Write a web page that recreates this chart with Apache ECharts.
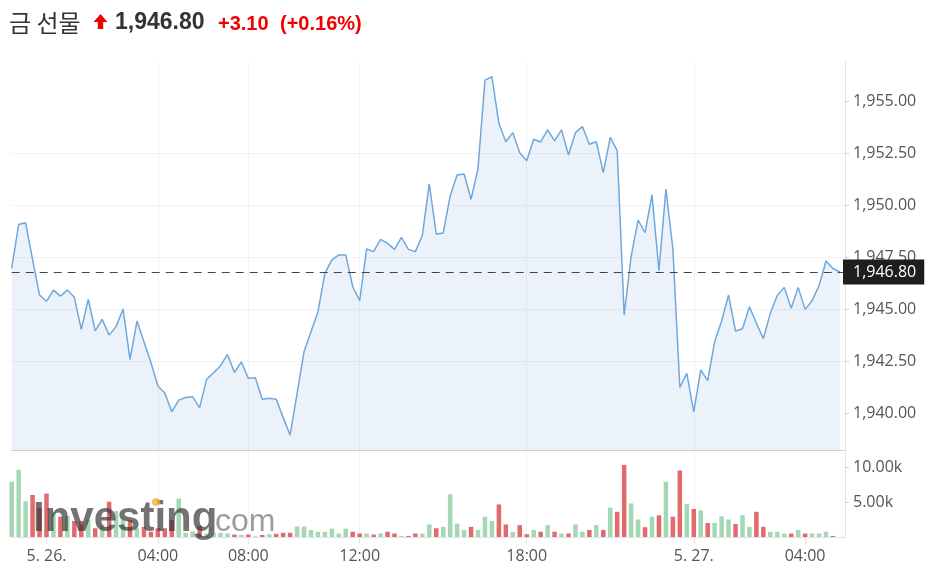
<!DOCTYPE html>
<html><head><meta charset="utf-8">
<script src="https://cdn.jsdelivr.net/npm/echarts@6/dist/echarts.min.js"></script>
<style>html,body{margin:0;padding:0;background:#fff}#c{width:933px;height:573px}</style>
</head><body><div id="c"></div>
<script>
// ---- data (15-minute bars) ----
const title = '금 선물';
const lastPrice = 1946.80;
const changeText = '+3.10';
const changePctText = '(+0.16%)';

const prices = [
  1946.97,1949.09,1949.17,1947.40,1945.69,1945.39,1945.93,1945.64,1945.93,1945.58,
  1944.04,1945.48,1943.97,1944.52,1943.76,1944.17,1945.02,1942.59,1944.44,1943.44,
  1942.45,1941.31,1940.97,1940.07,1940.63,1940.76,1940.79,1940.27,1941.63,1941.95,
  1942.29,1942.83,1941.97,1942.47,1941.68,1941.71,1940.67,1940.72,1940.67,1939.80,
  1938.95,1940.95,1942.96,1943.92,1944.89,1946.73,1947.38,1947.62,1947.62,1946.09,
  1945.42,1947.91,1947.78,1948.37,1948.18,1947.89,1948.47,1947.89,1947.78,1948.56,
  1951.04,1948.63,1948.68,1950.46,1951.47,1951.52,1950.30,1951.79,1956.04,1956.20,
  1953.96,1953.07,1953.51,1952.54,1952.16,1953.19,1953.06,1953.64,1953.11,1953.64,
  1952.43,1953.51,1953.80,1952.95,1953.07,1951.58,1953.28,1952.64,1944.73,1947.54,
  1949.30,1948.69,1950.51,1946.86,1950.79,1947.91,1941.24,1941.92,1940.07,1942.08,
  1941.57,1943.44,1944.44,1945.69,1943.96,1944.07,1945.13,1944.33,1943.59,1944.81,
  1945.67,1946.06,1945.05,1946.06,1945.00,1945.42,1946.14,1947.33,1946.97,1946.80
];

// volume in thousands
const volumesK = [
  7.9,9.6,5.1,6.0,4.2,6.2,3.5,2.9,3.0,2.3,
  2.3,2.5,1.25,1.8,5.05,3.7,2.5,2.4,1.25,1.45,
  0.75,1.25,1.25,2.4,5.5,0.6,0.8,1.6,0.5,0.6,
  0.6,0.5,0.35,0.3,0.35,0.1,0.3,0.4,0.45,0.6,
  0.6,1.5,1.5,1.0,0.75,0.75,1.2,0.5,1.2,0.75,
  0.5,0.5,0.35,0.5,0.75,0.5,0.15,0.15,0.5,0.5,
  1.8,1.25,1.45,6.1,1.9,1.0,1.45,1.0,2.9,2.3,
  4.65,1.8,0.7,1.7,0.4,1.0,0.75,1.7,0.75,0.5,
  0.5,1.8,0.75,1.0,1.7,1.0,4.2,3.6,10.3,4.8,
  2.5,1.4,2.9,3.1,7.9,2.9,9.5,4.7,4.0,3.8,
  2.0,2.0,2.95,2.5,1.85,3.1,1.45,3.6,1.45,0.75,
  0.75,0.5,0.5,1.0,0.5,0.5,0.5,0.75,0.15,0
];

const tickTimes  = ['5/26 00:00','5/26 04:00','5/26 08:00','5/26 12:00','5/26 18:00','5/27 00:00','5/27 04:00'];
const tickLabels = ['5. 26.','04:00','08:00','12:00','18:00','5. 27.','04:00'];
const priceTicks = [1940, 1942.5, 1945, 1947.5, 1950, 1952.5, 1955];
const volumeTicksK = [5, 10];

// bar timestamps: 15-minute steps from 5/25 22:45, daily break (06:15-06:45) skipped
const pad = n => (n < 10 ? '0' : '') + n;
const times = [];
(function(){
  let d = 25, h = 22, m = 45;
  while (times.length < prices.length) {
    if (!(h === 6 && m > 0)) times.push('5/' + d + ' ' + pad(h) + ':' + pad(m));
    m += 15; if (m === 60) { m = 0; h++; if (h === 24) { h = 0; d++; } }
  }
})();
const tickIdx = tickTimes.map(t => times.indexOf(t));

const UP = '#a4d7b4', DOWN = '#e26a6a';
const FONT = '"Open Sans", "Noto Sans", sans-serif';
const fmtPrice = v => Number(v).toLocaleString('en-US', {minimumFractionDigits: 2, maximumFractionDigits: 2});

const xMax = prices.length - 1 + 0.73;
const chart = echarts.init(document.getElementById('c'), null, {renderer: 'canvas'});

const vSplit = {show: true, showMinLine: false, showMaxLine: false, lineStyle: {color: '#f2f2f4'}};

chart.setOption({
  animation: false,
  backgroundColor: '#fff',
  grid: [
    {left: 11.7, right: 88, top: 62, height: 388},
    {left: 11.7, right: 88, top: 452, height: 85}
  ],
  xAxis: [
    {
      type: 'value', gridIndex: 0, min: 0, max: xMax,
      axisLine: {show: true, onZero: false, lineStyle: {color: '#cccccc'}},
      axisTick: {show: false, customValues: tickIdx},
      axisLabel: {show: false, customValues: tickIdx},
      splitLine: vSplit
    },
    {
      type: 'value', gridIndex: 1, min: 0, max: xMax,
      axisLine: {show: true, onZero: false, lineStyle: {color: '#e0e3eb'}},
      axisTick: {show: true, length: 7, lineStyle: {color: '#e0e3eb'}, customValues: tickIdx},
      axisLabel: {
        customValues: tickIdx, margin: 11, color: '#555', fontSize: 16, fontFamily: FONT,
        formatter: v => { const k = tickIdx.indexOf(Math.round(v)); return k >= 0 ? tickLabels[k] : ''; }
      },
      splitLine: vSplit
    }
  ],
  yAxis: [
    {
      type: 'value', gridIndex: 0, position: 'right', min: 1938.23, max: 1956.91,
      axisLine: {show: true, onZero: false, lineStyle: {color: '#e0e3eb'}},
      axisTick: {show: true, length: 4, lineStyle: {color: '#cfd3da'}, customValues: priceTicks},
      axisLabel: {customValues: priceTicks, margin: 8, color: '#555', fontSize: 16, fontFamily: FONT, formatter: fmtPrice},
      splitLine: {show: true, showMinLine: false, showMaxLine: false, lineStyle: {color: '#f2f2f4'}}
    },
    {
      type: 'value', gridIndex: 1, position: 'right', min: 0, max: 12.14,
      axisLine: {show: true, onZero: false, lineStyle: {color: '#e0e3eb'}},
      axisTick: {show: true, length: 4, lineStyle: {color: '#cfd3da'}, customValues: volumeTicksK},
      axisLabel: {customValues: volumeTicksK, margin: 8, color: '#555', fontSize: 16, fontFamily: FONT, formatter: v => v.toFixed(2) + 'k'},
      splitLine: {show: false}
    }
  ],
  series: [
    {
      type: 'line', xAxisIndex: 0, yAxisIndex: 0,
      data: prices.map((p, i) => [i, p]),
      showSymbol: false, symbol: 'none',
      lineStyle: {color: '#6fa8dc', width: 1.5},
      areaStyle: {color: 'rgba(120,165,210,0.2)', origin: 'start'},
      markLine: {
        silent: true, symbol: ['none', 'none'],
        lineStyle: {color: '#444', width: 1, type: [8, 6]},
        label: {
          position: 'end', distance: -2, formatter: () => fmtPrice(lastPrice),
          backgroundColor: '#1e1e1e', color: '#fff', padding: [5, 8, 4, 10],
          fontSize: 16, fontFamily: FONT
        },
        data: [{yAxis: lastPrice}]
      }
    },
    {
      type: 'bar', xAxisIndex: 1, yAxisIndex: 1, barWidth: 4.5, clip: false,
      data: volumesK.map((v, i) => ({
        value: [i, v],
        itemStyle: {color: (i === 0 || prices[i] >= prices[i - 1]) ? UP : DOWN}
      }))
    }
  ],
  graphic: [
    {type: 'text', x: 9, y: 23, z: 100, style: {text: title, font: '24px "Noto Sans CJK KR"', fill: '#333', verticalAlign: 'middle'}},
    {type: 'polygon', z: 100, shape: {points: [[100.5,14],[93.5,22],[97.8,22],[97.8,29],[103.2,29],[103.2,22],[107.5,22]]}, style: {fill: '#ee0000'}},
    {type: 'text', x: 115, y: 23, z: 100, style: {text: fmtPrice(lastPrice), font: 'bold 23px "Liberation Sans"', fill: '#333', verticalAlign: 'middle'}},
    {type: 'text', x: 218, y: 24, z: 100, style: {text: changeText, font: 'bold 20px "Liberation Sans"', fill: '#ee0000', verticalAlign: 'middle'}},
    {type: 'text', x: 280, y: 24, z: 100, style: {text: changePctText, font: 'bold 20px "Liberation Sans"', fill: '#ee0000', verticalAlign: 'middle'}},
    {type: 'text', x: 33, y: 519, z: 100, style: {text: 'Investing', font: 'bold 42px "Liberation Sans"', fill: 'rgba(55,55,55,0.7)', verticalAlign: 'middle', shadowBlur: 4, shadowColor: 'rgba(55,55,55,0.6)'}},
    {type: 'text', x: 206, y: 522, z: 100, style: {text: '.com', font: '32px "Liberation Sans"', fill: 'rgba(90,90,90,0.6)', verticalAlign: 'middle', shadowBlur: 3, shadowColor: 'rgba(90,90,90,0.5)'}},
    {type: 'circle', z: 101, shape: {cx: 156, cy: 502, r: 4}, style: {fill: 'rgba(245,170,40,0.75)'}}
  ]
});
</script>
</body></html>
